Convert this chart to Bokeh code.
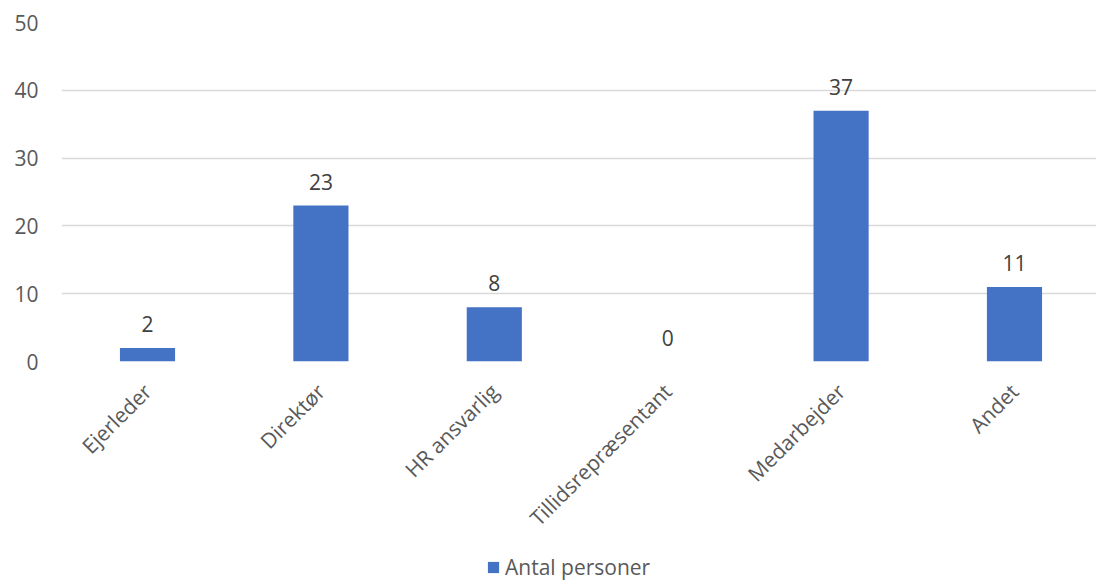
import math
from bokeh.plotting import figure
from bokeh.layouts import column
from bokeh.models import (ColumnDataSource, FixedTicker, Range1d, Legend, LegendItem,
                          LinearAxis, Grid)
from bokeh.core.properties import value
from bokeh.embed import file_html
from bokeh.resources import INLINE

categories = ["Ejerleder", "Direktør", "HR ansvarlig", "Tillidsrepræsentant", "Medarbejder", "Andet"]
counts = [2, 23, 8, 0, 37, 11]
series_name = "Antal personer"
y_ticks = [0, 10, 20, 30, 40, 50]

FONT = "Open Sans"
FS = "21px"
BAR_COLOR = "#4472C4"
xs = list(range(len(categories)))
src = ColumnDataSource(dict(x=xs, top=counts, lbl=[str(c) for c in counts]))

p = figure(width=1096, height=545, output_backend="svg", toolbar_location=None,
           x_range=Range1d(-0.496, 5.473), y_range=Range1d(0, 50),
           min_border_left=61, min_border_right=0, min_border_top=22, min_border_bottom=184,
           x_axis_type=None, y_axis_type=None)
p.outline_line_color = None
p.background_fill_color = "white"
p.border_fill_color = "white"

yaxis = LinearAxis(ticker=FixedTicker(ticks=y_ticks))
yaxis.axis_line_color = None
yaxis.major_tick_line_color = None
yaxis.minor_tick_line_color = None
yaxis.major_tick_out = 0
yaxis.major_tick_in = 0
yaxis.major_label_standoff = 23
yaxis.major_label_text_font = FONT
yaxis.major_label_text_font_size = FS
yaxis.major_label_text_color = "#595959"
p.add_layout(yaxis, "left")

xaxis = LinearAxis(ticker=FixedTicker(ticks=xs),
                   major_label_overrides={i: c for i, c in enumerate(categories)})
xaxis.axis_line_color = None
xaxis.major_tick_line_color = None
xaxis.minor_tick_line_color = None
xaxis.major_tick_out = 0
xaxis.major_tick_in = 0
xaxis.major_label_orientation = math.pi / 4
xaxis.major_label_standoff = 26
xaxis.major_label_text_font = FONT
xaxis.major_label_text_font_size = FS
xaxis.major_label_text_color = "#595959"
p.add_layout(xaxis, "below")

grid = Grid(dimension=1, ticker=FixedTicker(ticks=y_ticks),
            grid_line_color="#D9D9D9", grid_line_width=1.5)
p.add_layout(grid)

p.vbar(x="x", top="top", bottom=0, width=0.318, source=src,
       fill_color=BAR_COLOR, line_color=None)

p.text(x="x", y="top", text="lbl", source=src, text_align="center", text_baseline="alphabetic",
       y_offset=-24, text_font=value(FONT), text_font_size=FS, text_color="#404040")

# legend strip
q = figure(width=1096, height=38, output_backend="svg", toolbar_location=None,
           x_range=Range1d(-0.496, 5.473), y_range=Range1d(1000, 1001),
           min_border_left=0, min_border_right=0, min_border_top=0, min_border_bottom=0,
           x_axis_type=None, y_axis_type=None)
q.outline_line_color = None
q.grid.visible = False
lbars = q.vbar(x="x", top="top", bottom=0, width=0.318, source=src,
               fill_color=BAR_COLOR, line_color=None)
legend = Legend(items=[LegendItem(label=series_name, renderers=[lbars])],
                location=(425, 2), orientation="horizontal",
                padding=0, margin=0, border_line_color=None, background_fill_alpha=0,
                glyph_width=14, glyph_height=14, label_standoff=5, label_height=20,
                label_text_font=FONT, label_text_font_size=FS, label_text_color="#595959")
q.add_layout(legend, "center")

layout = column(p, q, spacing=0)
open("out.html", "w").write(file_html(layout, INLINE))
